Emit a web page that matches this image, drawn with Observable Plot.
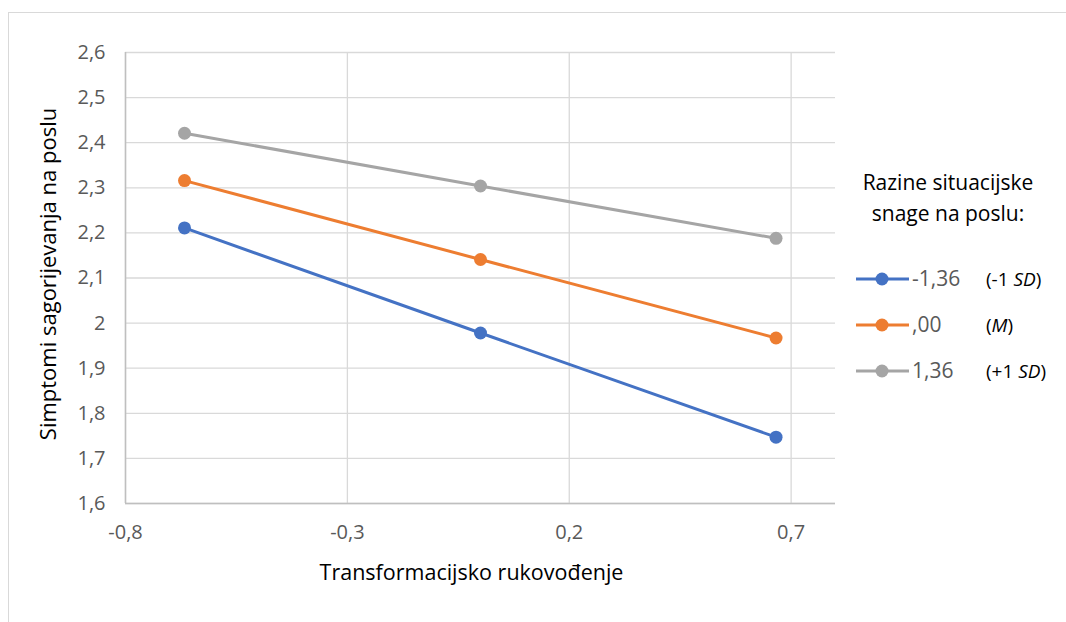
<!DOCTYPE html>
<html>
<head>
<meta charset="utf-8">
<script src="https://cdn.jsdelivr.net/npm/d3@7"></script>
<script src="https://cdn.jsdelivr.net/npm/@observablehq/plot@0.6"></script>
<style>
  html, body { margin: 0; padding: 0; background: #fff; }
  #wrap { position: relative; width: 1066px; height: 622px; overflow: hidden; font-family: "Open Sans", sans-serif; }
  #frame { position: absolute; left: 8px; top: 12px; width: 1100px; height: 700px; border: 1px solid #d9d9d9; box-sizing: border-box; }
  #chart { position: absolute; left: 0; top: 0; }
  #chart g[aria-label="x-axis tick label"], #chart g[aria-label="y-axis tick label"],
  #chart g[aria-label="x-axis tick label"] text, #chart g[aria-label="y-axis tick label"] text { font-size: 20px !important; }
  #legend { position: absolute; left: 846px; top: 167px; width: 215px; }
  #legend .title { font-size: 21px; line-height: 31px; text-align: center; color: #000; width: 204px; }
  #legend .item { position: relative; height: 46px; }
  #legend svg { position: absolute; left: 10px; top: 0; }
  #legend .val { position: absolute; left: 66px; top: -2px; font-size: 21px; color: #595959; line-height: 30px; }
  #legend .note { position: absolute; left: 140px; top: 1px; font-size: 19px; color: #000; line-height: 26px; }
</style>
</head>
<body>
<div id="wrap">
  <div id="frame"></div>
  <div id="chart"></div>
  <div id="legend"></div>
</div>
<script>
const xValues = [-0.667, 0, 0.666];
const seriesNames = ["-1,36", ",00", "1,36"];
const seriesNotes = [["(-1 ", "SD", ")"], ["(", "M", ")"], ["(+1 ", "SD", ")"]];
const seriesColors = ["#4472C4", "#ED7D31", "#A5A5A5"];
const lowValues = [2.211, 1.978, 1.747];
const meanValues = [2.316, 2.141, 1.967];
const highValues = [2.421, 2.304, 2.188];
const xTicks = [-0.8, -0.3, 0.2, 0.7];
const yTicks = [1.6, 1.7, 1.8, 1.9, 2.0, 2.1, 2.2, 2.3, 2.4, 2.5, 2.6];
const xTitle = "Transformacijsko rukovođenje";
const yTitle = "Simptomi sagorijevanja na poslu";
const legendTitle = ["Razine situacijske", "snage na poslu:"];

const seriesValues = [lowValues, meanValues, highValues];
const data = [];
seriesValues.forEach((vals, i) => vals.forEach((v, j) => data.push({series: seriesNames[i], x: xValues[j], y: v})));

const fmt = d => String(+d.toFixed(1)).replace(".", ",");

const plot = Plot.plot({
  width: 1066,
  height: 622,
  marginLeft: 125,
  marginRight: 231,
  marginTop: 52,
  marginBottom: 119,
  style: {fontFamily: "Open Sans, sans-serif", fontSize: "20px", background: "transparent", overflow: "visible"},
  x: {domain: [-0.8, 0.8], ticks: xTicks, tickFormat: fmt},
  y: {domain: [1.6, 2.6], ticks: yTicks, tickFormat: fmt},
  color: {domain: seriesNames, range: seriesColors},
  marks: [
    Plot.gridX(xTicks, {stroke: "#d9d9d9", strokeOpacity: 1, strokeWidth: 1.3}),
    Plot.gridY(yTicks, {stroke: "#d9d9d9", strokeOpacity: 1, strokeWidth: 1.3}),
    Plot.ruleX([-0.8], {stroke: "#bfbfbf", strokeWidth: 1.5}),
    Plot.ruleY([1.6], {stroke: "#bfbfbf", strokeWidth: 1.5}),
    Plot.axisX({ticks: xTicks, tickFormat: fmt, tickSize: 0, tickPadding: 21, fontSize: 20, fill: "#595959", label: null}),
    Plot.axisY({ticks: yTicks, tickFormat: fmt, tickSize: 0, tickPadding: 20, fontSize: 20, fill: "#595959", label: null}),
    Plot.line(data, {x: "x", y: "y", z: "series", stroke: "series", strokeWidth: 3}),
    Plot.dot(data, {x: "x", y: "y", fill: "series", r: 6.5}),
    Plot.text([xTitle], {frameAnchor: "bottom", dx: -9, dy: 76, fontSize: 21.5, fill: "#000"}),
    Plot.text([yTitle], {frameAnchor: "left", textAnchor: "middle", dx: -77, dy: -4, rotate: -90, fontSize: 22, fill: "#000"})
  ]
});
document.getElementById("chart").appendChild(plot);

const legend = document.getElementById("legend");
const t = document.createElement("div");
t.className = "title";
t.innerHTML = legendTitle.join("<br>");
t.style.marginBottom = "36px";
legend.appendChild(t);
seriesNames.forEach((name, i) => {
  const item = document.createElement("div");
  item.className = "item";
  item.innerHTML = `<svg width="56" height="28"><line x1="0" y1="14" x2="53" y2="14" stroke="${seriesColors[i]}" stroke-width="3"/><circle cx="26" cy="14" r="6.5" fill="${seriesColors[i]}"/></svg>` +
    `<span class="val">${name}</span>` +
    `<span class="note">${seriesNotes[i][0]}<i>${seriesNotes[i][1]}</i>${seriesNotes[i][2]}</span>`;
  legend.appendChild(item);
});
</script>
</body>
</html>
